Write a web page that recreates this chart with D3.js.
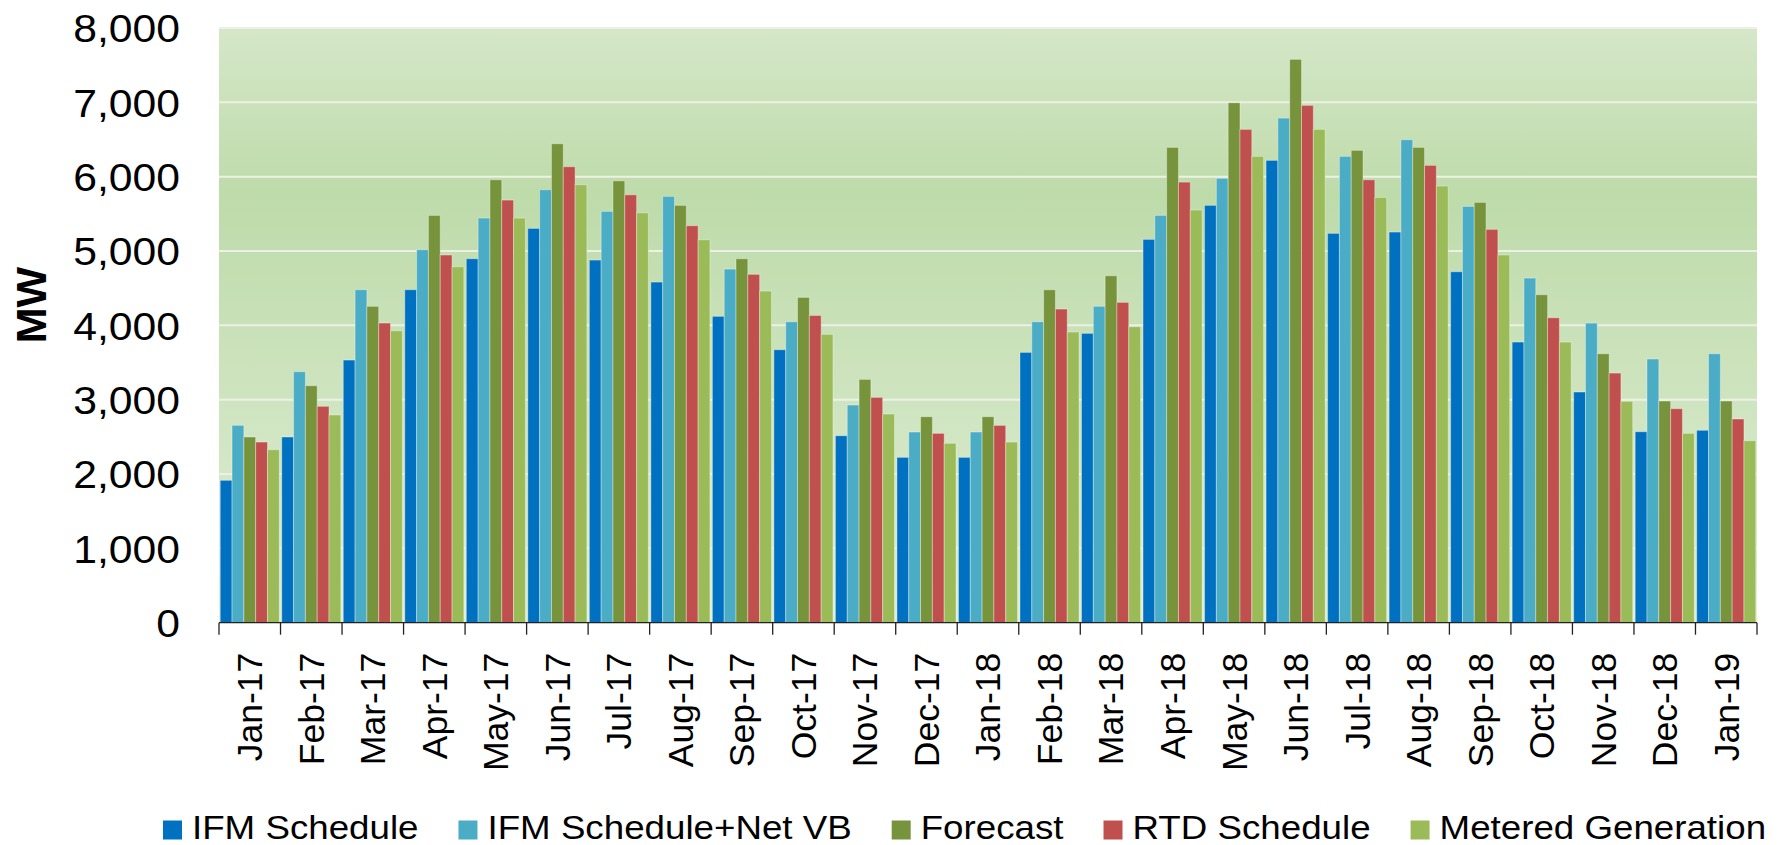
<!DOCTYPE html>
<html>
<head>
<meta charset="utf-8">
<script src="https://cdn.jsdelivr.net/npm/d3@7"></script>
<style>
  body { margin: 0; background: #fff; }
  text { font-family: Arial, "Liberation Sans", sans-serif; fill: #000; }
</style>
</head>
<body>
<div id="chart"></div>
<script>
const svgWidth = 1787;
const svgHeight = 845;

const margin = { top: 28, right: 30, bottom: 222, left: 219 };
const width = 1757 - margin.left;
const height = 622.7 - margin.top;

// data (MW)
const months = ["Jan-17", "Feb-17", "Mar-17", "Apr-17", "May-17", "Jun-17", "Jul-17", "Aug-17", "Sep-17",
  "Oct-17", "Nov-17", "Dec-17", "Jan-18", "Feb-18", "Mar-18", "Apr-18", "May-18", "Jun-18", "Jul-18",
  "Aug-18", "Sep-18", "Oct-18", "Nov-18", "Dec-18", "Jan-19"];

const ifmSchedule = [1915, 2498, 3533, 4479, 4896, 5304, 4878, 4582, 4121, 3672, 2515, 2224, 2224,
  3636, 3892, 5156, 5614, 6219, 5237, 5255, 4721, 3775, 3103, 2569, 2588];
const ifmNetVB = [2655, 3376, 4479, 5017, 5443, 5824, 5533, 5735, 4757, 4048, 2928, 2565, 2565,
  4048, 4256, 5479, 5977, 6788, 6273, 6497, 5600, 4636, 4030, 3547, 3618];
const forecast = [2498, 3188, 4256, 5479, 5958, 6443, 5944, 5614, 4896, 4376, 3273, 2771, 2771,
  4479, 4667, 6394, 6994, 7578, 6354, 6394, 5654, 4412, 3618, 2982, 2982];
const rtdSchedule = [2430, 2911, 4031, 4946, 5685, 6134, 5756, 5340, 4686, 4133, 3031, 2547, 2654,
  4219, 4309, 5927, 6636, 6959, 5958, 6152, 5291, 4102, 3358, 2879, 2740];
const metered = [2327, 2794, 3927, 4788, 5443, 5891, 5514, 5151, 4461, 3879, 2807, 2413, 2430,
  3910, 3981, 5551, 6273, 6636, 5721, 5874, 4946, 3775, 2978, 2547, 2448];

const seriesNames = ["IFM Schedule", "IFM Schedule+Net VB", "Forecast", "RTD Schedule", "Metered Generation"];
const seriesColors = ["#0070c0", "#4bacc6", "#77933c", "#c0504d", "#9bbb59"];
const yTicks = [0, 1000, 2000, 3000, 4000, 5000, 6000, 7000, 8000];

const seriesValues = [ifmSchedule, ifmNetVB, forecast, rtdSchedule, metered];
const rows = months.map((m, i) => ({ month: m, values: seriesValues.map(s => s[i]) }));

// the source text is a bit wider than Arial, so stretch it horizontally
const stretch = 1.08;

const svg = d3.select("#chart")
  .append("svg")
  .attr("width", svgWidth)
  .attr("height", svgHeight);

// plot background gradient
const grad = svg.append("defs").append("linearGradient")
  .attr("id", "plotBg")
  .attr("x1", 0).attr("y1", 0).attr("x2", 0).attr("y2", 1);
grad.append("stop").attr("offset", "0%").attr("stop-color", "#d5e7c8");
grad.append("stop").attr("offset", "28%").attr("stop-color", "#bedbaa");
grad.append("stop").attr("offset", "100%").attr("stop-color", "#e0eed7");

const chartGroup = svg.append("g")
  .attr("transform", `translate(${margin.left}, ${margin.top})`);

// scales
const x0 = d3.scaleBand()
  .domain(months)
  .range([0, width])
  .paddingInner(0.04)
  .paddingOuter(0.02);

const x1 = d3.scaleBand()
  .domain(seriesNames)
  .range([0, x0.bandwidth()]);

const y = d3.scaleLinear()
  .domain([0, 8000])
  .range([height, 0]);

chartGroup.append("rect")
  .attr("width", width)
  .attr("height", height)
  .attr("fill", "url(#plotBg)");

// gridlines
chartGroup.append("g")
  .selectAll("line")
  .data(yTicks.filter(d => d > 0))
  .join("line")
  .attr("x1", 0)
  .attr("x2", width)
  .attr("y1", d => y(d))
  .attr("y2", d => y(d))
  .attr("stroke", "#ecf1e4")
  .attr("stroke-width", 2);

// bars
const groups = chartGroup.append("g")
  .selectAll("g")
  .data(rows)
  .join("g")
  .attr("transform", d => `translate(${x0(d.month)}, 0)`);

groups.selectAll("rect")
  .data(d => d.values.map((v, k) => ({ key: seriesNames[k], value: v, color: seriesColors[k] })))
  .join("rect")
  .attr("x", d => x1(d.key))
  .attr("y", d => y(d.value))
  .attr("width", x1.bandwidth())
  .attr("height", d => height - y(d.value))
  .attr("fill", d => d.color)
  .attr("stroke", "rgba(255,255,255,0.35)")
  .attr("stroke-width", 1);

// y axis labels (no axis line)
const fmt = d3.format(",");
chartGroup.append("g")
  .selectAll("text")
  .data(yTicks)
  .join("text")
  .attr("transform", d => `translate(${-39}, ${y(d)}) scale(${stretch}, 1)`)
  .attr("text-anchor", "end")
  .attr("dy", "0.36em")
  .style("font-size", "39.5px")
  .text(d => fmt(d));

// x axis: baseline, boundary ticks, rotated labels
const step = x0.step();
const start = x0(months[0]) - step * x0.paddingOuter();
const boundaries = d3.range(months.length + 1).map(i => start + i * step);

const xAxisG = chartGroup.append("g")
  .attr("transform", `translate(0, ${height})`);

xAxisG.append("line")
  .attr("x1", boundaries[0])
  .attr("x2", boundaries[boundaries.length - 1])
  .attr("stroke", "#222")
  .attr("stroke-width", 1.3);

xAxisG.selectAll(".tickmark")
  .data(boundaries)
  .join("line")
  .attr("class", "tickmark")
  .attr("x1", d => d)
  .attr("x2", d => d)
  .attr("y1", 0)
  .attr("y2", 12)
  .attr("stroke", "#222")
  .attr("stroke-width", 1.3);

xAxisG.selectAll(".xlabel")
  .data(months)
  .join("text")
  .attr("class", "xlabel")
  .attr("transform", d => `translate(${x0(d) + x0.bandwidth() / 2}, 30) rotate(-90)`)
  .attr("text-anchor", "end")
  .attr("dy", "0.35em")
  .style("font-size", "35.5px")
  .text(d => d);

// y axis title
svg.append("text")
  .attr("transform", "translate(31, 305) rotate(-90)")
  .attr("text-anchor", "middle")
  .attr("dy", "0.35em")
  .style("font-size", "43px")
  .style("font-weight", "bold")
  .text("MW");

// legend
const legend = svg.append("g").attr("transform", "translate(163, 839)");
let cursor = 0;
seriesNames.forEach((name, k) => {
  const item = legend.append("g").attr("transform", `translate(${cursor}, 0)`);
  item.append("rect")
    .attr("x", 0)
    .attr("y", -18.5)
    .attr("width", 19)
    .attr("height", 19)
    .attr("fill", seriesColors[k]);
  const t = item.append("text")
    .attr("transform", `translate(29, 0) scale(${stretch}, 1)`)
    .style("font-size", "34px")
    .text(name);
  cursor += 29 + t.node().getComputedTextLength() * stretch + 40;
});
</script>
</body>
</html>
